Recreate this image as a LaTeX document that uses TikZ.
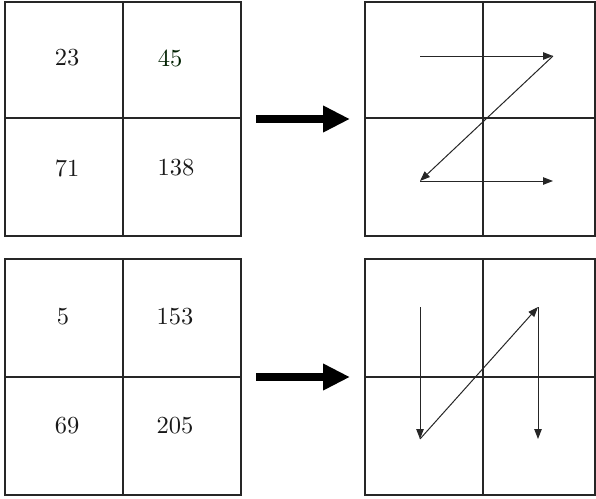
\documentclass[tikz,border=0pt]{standalone}
\usetikzlibrary{arrows.meta}
\begin{document}
\begin{tikzpicture}[x=1pt,y=-1pt,
  gridline/.style={draw=black!85,line width=1.1pt},
  num/.style={text=black!90,inner sep=0pt},
  path/.style={draw=black!85,line width=1pt,-{Triangle[length=10pt,width=7.5pt]}},
  bigarrow/.style={draw=black,line width=8pt,-{Triangle[length=27pt,width=25pt]}}]
\useasboundingbox (0,0) rectangle (596,498);
% grids
\draw[gridline] (5,2) rectangle (241,236) (123,2) -- (123,236) (5,118) -- (241,118);
\draw[gridline] (365,2) rectangle (595,236) (483,2) -- (483,236) (365,118) -- (595,118);
\draw[gridline] (5,259) rectangle (241,495) (123,259) -- (123,495) (5,377) -- (241,377);
\draw[gridline] (365,259) rectangle (595,495) (483,259) -- (483,495) (365,377) -- (595,377);
% numbers
\node[num] (n23) at (67,58) {\scalebox{2.45}{23}};
\node[num,text=black!75!green!50!black] (n45) at (170,58) {\scalebox{2.45}{45}};
\node[num] (n71) at (67,168) {\scalebox{2.45}{71}};
\node[num] (n138) at (176,168) {\scalebox{2.45}{138}};
\node[num] (n5) at (63,317) {\scalebox{2.45}{5}};
\node[num] (n153) at (175,317) {\scalebox{2.45}{153}};
\node[num] (n69) at (67,426) {\scalebox{2.45}{69}};
\node[num] (n205) at (175,426) {\scalebox{2.45}{205}};
% big arrows
\coordinate (ba1) at (256,119); \coordinate (bb1) at (350,119);
\coordinate (ba2) at (256,377); \coordinate (bb2) at (350,377);
\draw[bigarrow] (ba1) -- (bb1);
\draw[bigarrow] (ba2) -- (bb2);
% Z path
\coordinate (z1) at (420,56); \coordinate (z2) at (553,56);
\coordinate (z3) at (420,181); \coordinate (z4) at (553,181);
\draw[path] (z1) -- (z2);
\draw[path] (z2) -- (z3);
\draw[path] (z3) -- (z4);
% N path
\coordinate (m1) at (420,307); \coordinate (m2) at (420,439);
\coordinate (m3) at (538,307); \coordinate (m4) at (538,439);
\draw[path] (m1) -- (m2);
\draw[path] (m2) -- (m3);
\draw[path] (m3) -- (m4);
\end{tikzpicture}
\end{document}
